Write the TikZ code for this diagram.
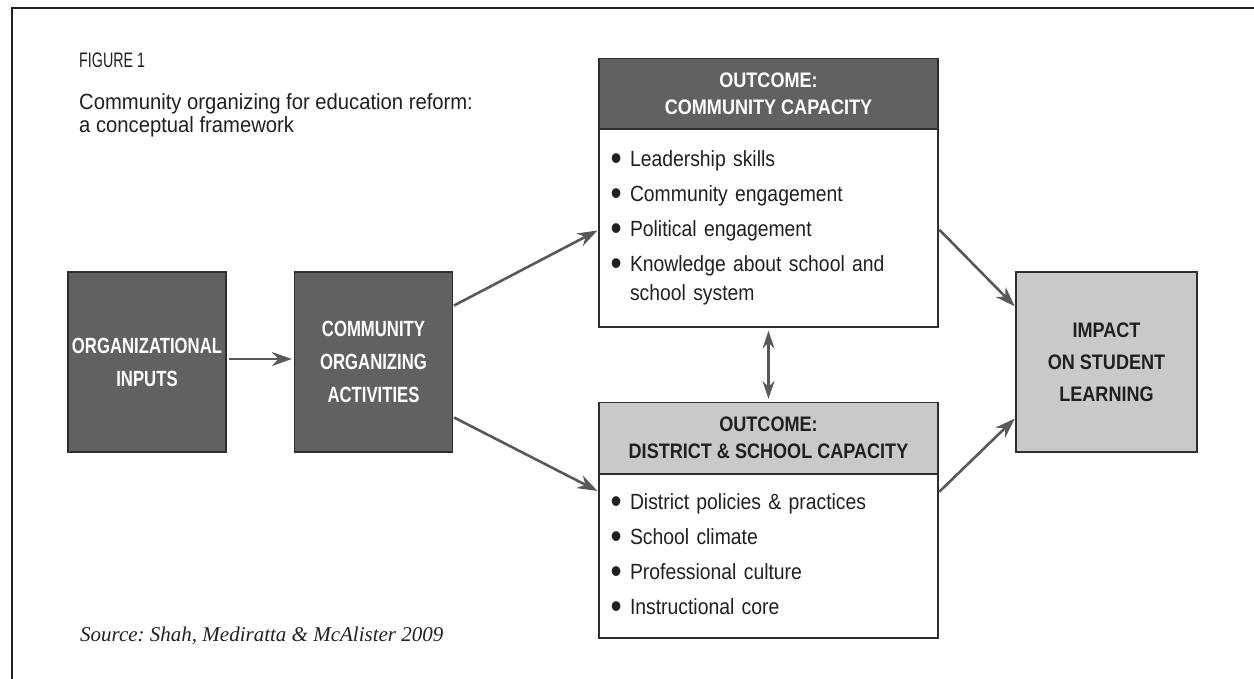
\documentclass[tikz,border=0pt]{standalone}
\usepackage{fontspec}
\usepackage{tikz}
\usetikzlibrary{arrows.meta}
\setmainfont{Liberation Serif}
\newfontfamily\figfont[FakeStretch=0.68]{Liberation Sans}
\newfontfamily\titlefont[FakeStretch=0.92]{Liberation Sans}
\newfontfamily\lightfont[FakeStretch=0.88]{Liberation Sans}
\newfontfamily\narrowbold[FakeStretch=0.76]{Liberation Sans}
\newfontfamily\headbold[FakeStretch=0.86]{Liberation Sans}
\definecolor{boxdark}{HTML}{616163}
\definecolor{boxlight}{HTML}{C8C9CB}
\definecolor{arrowgray}{HTML}{58595B}
\definecolor{edgegray}{HTML}{2E2E2E}
\definecolor{inktext}{HTML}{231F20}
\newcommand{\bul}{\makebox[11pt][l]{\hspace*{-8.5pt}\raisebox{-4pt}{\fontsize{36}{36}\selectfont\textbullet}}}
\frenchspacing
\tikzset{
  framerule/.style = {draw=inktext,line width=2pt},
  figlabel/.style  = {inner sep=0pt,text=inktext,font=\figfont\fontsize{21}{24}\selectfont},
  titletext/.style = {inner sep=0pt,align=left,text=inktext,font=\titlefont\fontsize{22}{23}\selectfont},
  sourcetext/.style= {inner sep=0pt,text=inktext,font=\itshape\fontsize{21}{24}\selectfont},
  darkbox/.style   = {draw=edgegray,line width=1.2pt,fill=boxdark,text=white,align=center,
                      minimum width=158pt,minimum height=180pt,
                      font=\narrowbold\bfseries\fontsize{22}{33}\selectfont},
  lightbox/.style  = {draw=edgegray,line width=1.2pt,fill=boxlight,text=inktext,align=center,
                      minimum width=181pt,minimum height=180pt,
                      font=\headbold\bfseries\fontsize{21}{32}\selectfont},
  headbar/.style   = {draw=edgegray,line width=1.2pt,align=center,minimum width=339pt,
                      minimum height=71pt,font=\headbold\bfseries\fontsize{21}{27}\selectfont},
  listbox/.style   = {draw=edgegray,line width=1.2pt,fill=white,text=inktext,align=left,
                      text width=299pt,inner xsep=20pt,minimum width=339pt,
                      font=\lightfont\fontsize{22}{29}\selectfont},
  flowarr/.style   = {-{Stealth[length=20pt,width=14pt]},arrowgray,line width=2.6pt},
  linkarr/.style   = {{Stealth[length=18pt,width=12pt]}-{Stealth[length=18pt,width=12pt]},
                      arrowgray,line width=2.2pt}
}

\begin{document}
\begin{tikzpicture}[x=1pt,y=-1pt]
  \useasboundingbox (0,0) rectangle (1254,679);
  \draw[framerule] (12,679) -- (12,8) -- (1254,8);
  \node[figlabel,anchor=base west] (fignum) at (79,68) {FIGURE 1};
  \node[titletext,anchor=north west] (figtitle) at (79,93)
        {Community organizing for education reform:\\a conceptual framework};
  \node[darkbox] (inputs)     at (147,362)   {ORGANIZATIONAL\\INPUTS};
  \node[darkbox] (activities) at (373.5,362) {COMMUNITY\\ORGANIZING\\ACTIVITIES};
  \node[headbar,fill=boxdark,text=white] (comhead) at (768.5,94)
        {OUTCOME:\\COMMUNITY CAPACITY};
  \node[listbox,minimum height=198pt] (combody) at (768.5,228)
        {\bul Leadership skills\\[6pt]
         \bul Community engagement\\[6pt]
         \bul Political engagement\\[6pt]
         \bul Knowledge about school and\\
         \hspace*{11pt}school system};
  \node[headbar,fill=boxlight,text=inktext] (disthead) at (768.5,438)
        {OUTCOME:\\DISTRICT \& SCHOOL CAPACITY};
  \node[listbox,minimum height=164pt] (distbody) at (768.5,556)
        {\bul District policies \& practices\\[6pt]
         \bul School climate\\[6pt]
         \bul Professional culture\\[6pt]
         \bul Instructional core};
  \node[lightbox] (impact) at (1106.5,362) {IMPACT\\ON STUDENT\\LEARNING};
  \node[sourcetext,anchor=base west] (source) at (80,641)
        {Source: Shah, Mediratta \& McAlister 2009};
  \draw[flowarr,shorten <=2pt,shorten >=2pt] ([yshift=3pt]inputs.east) -- ([yshift=3pt]activities.west);
  \draw[flowarr,shorten <=1pt,shorten >=1pt] ([yshift=56pt]activities.east) -- ([yshift=-2pt]combody.west);
  \draw[flowarr,shorten <=1pt,shorten >=1pt] ([yshift=-55pt]activities.east) -- ([yshift=-18pt]distbody.north west);
  \draw[flowarr,shorten <=1pt,shorten >=1pt] ([yshift=-1pt]combody.east) -- ([yshift=55pt]impact.west);
  \draw[flowarr,shorten <=1pt,shorten >=1pt] ([yshift=-19pt]distbody.north east) -- ([yshift=-56pt]impact.west);
  \draw[linkarr,shorten <=3pt,shorten >=3pt] (combody.south) -- (disthead.north);
\end{tikzpicture}
\end{document}
